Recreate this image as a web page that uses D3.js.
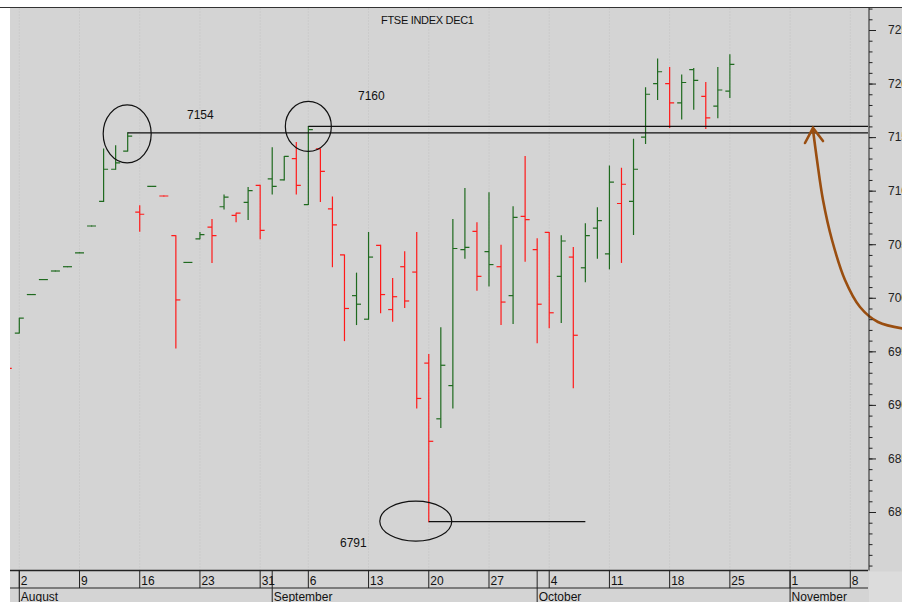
<!DOCTYPE html>
<html>
<head>
<meta charset="utf-8">
<script src="https://cdn.jsdelivr.net/npm/d3@7"></script>
<style>
  body { margin: 0; background: #fff; }
  svg { display: block; font-family: "Liberation Sans", Arial, sans-serif; }
</style>
</head>
<body>
<svg width="902" height="602"></svg>
<script>
// daily OHLC of the Dec contract
var dates = ["2021-07-30",
  "2021-08-02","2021-08-03","2021-08-04","2021-08-05","2021-08-06",
  "2021-08-09","2021-08-10","2021-08-11","2021-08-12","2021-08-13",
  "2021-08-16","2021-08-17","2021-08-18","2021-08-19","2021-08-20",
  "2021-08-23","2021-08-24","2021-08-25","2021-08-26","2021-08-27",
  "2021-08-31","2021-09-01","2021-09-02","2021-09-03",
  "2021-09-06","2021-09-07","2021-09-08","2021-09-09","2021-09-10",
  "2021-09-13","2021-09-14","2021-09-15","2021-09-16","2021-09-17",
  "2021-09-20","2021-09-21","2021-09-22","2021-09-23","2021-09-24",
  "2021-09-27","2021-09-28","2021-09-29","2021-09-30","2021-10-01",
  "2021-10-04","2021-10-05","2021-10-06","2021-10-07","2021-10-08",
  "2021-10-11","2021-10-12","2021-10-13","2021-10-14","2021-10-15",
  "2021-10-18","2021-10-19","2021-10-20","2021-10-21","2021-10-22",
  "2021-10-25"];
var open  = [6940,
  6967,7003,7017,7025,7029, 7042,7067,7090,7120,7137, 7080,7104,7095,7058,7033,
  7055,7066,7085,7077,7089, 7105,7111,7110,7130, 7087,7139,7083,7040,7002,
  6980,7049,6989,7029,7024, 6939,6887,6918,7045,7062, 7043,7029,7002,7076,7045,
  7061,7020,7038,7028,7065, 7041,7088,7090,7150,7200, 7200,7182,7213,7188,7179,
  7193];
var high  = [6945,
  6981,7003,7017,7025,7029, 7042,7067,7139,7142,7154, 7086,7104,7095,7058,7033,
  7061,7073,7096,7079,7103, 7105,7140,7132,7145, 7160,7139,7094,7040,7023,
  7061,7049,7018,7043,7061, 6947,6972,7073,7102,7070, 7098,7049,7085,7132,7055,
  7061,7058,7047,7069,7084, 7123,7121,7148,7196,7223, 7215,7208,7214,7201,7215,
  7227];
var low   = [6925,
  6967,7003,7017,7025,7029, 7042,7067,7090,7120,7137, 7062,7104,7095,6953,7033,
  7055,7033,7083,7071,7073, 7055,7097,7110,7097, 7087,7090,7029,6960,6975,
  6980,6986,6978,6991,6897, 6791,6879,6897,7037,7007, 7011,6975,6976,7034,6958,
  6972,6977,6916,7015,7037, 7027,7033,7059,7144,7185, 7159,7167,7176,7158,7168,
  7187];
var close = [6934,
  6981,7003,7017,7025,7029, 7042,7067,7120,7126,7151, 7078,7104,7095,6998,7033,
  7059,7058,7094,7079,7100, 7063,7104,7132,7105, 7157,7118,7068,6990,6994,
  7038,7003,7001,6997,6906, 6866,6937,7046,7047,7020, 7031,6996,7075,7073,6994,
  6986,7053,6965,7058,7072, 7108,7106,7120,7190,7211, 7182,7201,7203,7168,7194,
  7218];

// axis labels
var weekTicks = ["2021-08-02","2021-08-09","2021-08-16","2021-08-23","2021-08-31",
  "2021-09-06","2021-09-13","2021-09-20","2021-09-27","2021-10-04","2021-10-11",
  "2021-10-18","2021-10-25","2021-11-01","2021-11-08"];
var monthTicks = ["2021-08-02","2021-09-01","2021-10-01","2021-11-01"];
var monthNames = ["August","September","October","November"];
var priceTicks = [7250,7200,7150,7100,7050,7000,6950,6900,6850,6800];

// hand drawn marks: levels and their labels
var levelDates = [["2021-08-13", null], ["2021-09-06", null], ["2021-09-20", "2021-10-07"]];
var levelValues = [7154, 7160, 6791];
var levelLabels = ["7154", "7160", "6791"];

var svg = d3.select("svg"),
    width = +svg.attr("width"),
    height = +svg.attr("height");

var plotLeft = 10, plotRight = 868, plotTop = 7.5, plotBottom = 570.5;

// trading calendar (weekdays, UK bank holiday removed)
var holidays = ["2021-08-30"];
var fmt = d3.timeFormat("%Y-%m-%d");
var parse = d3.timeParse("%Y-%m-%d");
var days = d3.timeDay.range(new Date(2021, 6, 30), new Date(2021, 10, 13))
  .filter(function(d) { var w = d.getDay(); return w > 0 && w < 6 && holidays.indexOf(fmt(d)) < 0; })
  .map(fmt);
var base = days.indexOf("2021-08-02");
function idx(s) { return days.indexOf(s) - base; }

var x = d3.scaleLinear().domain([0, 69]).range([19.3, 850.3]);
var y = d3.scaleLinear().domain([6800, 7250]).range([512, 30]);

var green = "#1f6a1f", red = "#ff1a1a";

// background
svg.append("rect").attr("x", plotLeft).attr("y", plotTop).attr("width", width - plotLeft).attr("height", height - plotTop)
  .attr("fill", "#d4d4d4");
svg.append("rect").attr("x", plotRight + 1).attr("y", plotBottom + 1).attr("width", width - plotRight).attr("height", height - plotBottom)
  .attr("fill", "#dcdcdc");
svg.append("line").attr("x1", 0).attr("x2", width).attr("y1", plotTop).attr("y2", plotTop)
  .attr("stroke", "#333").attr("stroke-width", 1);

// weekly grid
svg.append("g").selectAll("line")
  .data(weekTicks)
  .enter().append("line")
    .attr("x1", function(d) { return x(idx(d)); })
    .attr("x2", function(d) { return x(idx(d)); })
    .attr("y1", plotTop + 1).attr("y2", plotBottom)
    .attr("stroke", "#c2c2c2").attr("stroke-dasharray", "1,2");

svg.append("text").attr("x", 381).attr("y", 24)
  .attr("font-size", 11).attr("letter-spacing", -0.3).attr("fill", "#111")
  .text("FTSE INDEX DEC1");

// bars
svg.append("clipPath").attr("id", "plot")
  .append("rect").attr("x", plotLeft).attr("y", plotTop).attr("width", plotRight - plotLeft).attr("height", plotBottom - plotTop);

var bars = dates.map(function(d, i) {
  var up = i > 0 ? close[i] > close[i - 1] : close[i] >= open[i];
  return {date: d, o: open[i], h: high[i], l: low[i], c: close[i], color: up ? green : red};
});

var bar = svg.append("g").attr("clip-path", "url(#plot)")
  .selectAll("g")
  .data(bars)
  .enter().append("g")
    .attr("stroke", function(d) { return d.color; })
    .attr("stroke-width", 1.2);

bar.append("line")
  .attr("x1", function(d) { return x(idx(d.date)); })
  .attr("x2", function(d) { return x(idx(d.date)); })
  .attr("y1", function(d) { return y(d.h) - 0.5; })
  .attr("y2", function(d) { return y(d.l) + 0.5; });
bar.append("line")
  .attr("x1", function(d) { return x(idx(d.date)) - 4.5; })
  .attr("x2", function(d) { return x(idx(d.date)); })
  .attr("y1", function(d) { return y(d.o); })
  .attr("y2", function(d) { return y(d.o); });
bar.append("line")
  .attr("x1", function(d) { return x(idx(d.date)); })
  .attr("x2", function(d) { return x(idx(d.date)) + 4.5; })
  .attr("y1", function(d) { return y(d.c); })
  .attr("y2", function(d) { return y(d.c); });

// levels, circles and labels
var ann = svg.append("g").attr("stroke", "#111").attr("fill", "none").attr("stroke-width", 1.2);
levelValues.forEach(function(v, i) {
  var x1 = x(idx(levelDates[i][0]));
  var x2 = levelDates[i][1] ? x(idx(levelDates[i][1])) : plotRight;
  ann.append("line").attr("x1", x1).attr("x2", x2).attr("y1", y(v)).attr("y2", y(v));
});
ann.append("ellipse").attr("cx", x(idx("2021-08-13")) - 0.5).attr("cy", y(7154) + 1).attr("rx", 24).attr("ry", 29);
ann.append("ellipse").attr("cx", x(idx("2021-09-06"))).attr("cy", y(7160)).attr("rx", 23).attr("ry", 25);
ann.append("ellipse").attr("cx", x(idx("2021-09-20")) - 13).attr("cy", y(6791) - 0.5).attr("rx", 36).attr("ry", 20);

var labelPos = [[187, -14], [358, -26], [340, 25.5]];
levelLabels.forEach(function(t, i) {
  svg.append("text").attr("x", labelPos[i][0]).attr("y", y(levelValues[i]) + labelPos[i][1])
    .attr("font-size", 12).attr("fill", "#111").text(t);
});

// brown arrow
var arrow = svg.append("g").attr("stroke", "#9a4e10").attr("stroke-width", 2.6).attr("fill", "none")
  .attr("stroke-linecap", "round");
arrow.append("path")
  .attr("d", d3.line().curve(d3.curveCatmullRom)([[906, 329], [878, 322], [860, 307], [845, 280], [832, 240], [823, 200], [817, 160], [813, 130]]));
arrow.append("path").attr("d", "M805,143L813,128L823,141");

// right price axis
var axisG = svg.append("g").attr("transform", "translate(" + (plotRight + 1) + ",0)");
axisG.append("line").attr("x1", 0).attr("x2", 0).attr("y1", plotTop).attr("y2", plotBottom)
  .attr("stroke", "#222");
axisG.append("g")
  .call(d3.axisRight(y).tickValues(d3.range(6750, 7271, 10)).tickSize(3.5).tickFormat(""))
  .call(function(g) { g.select(".domain").remove(); g.selectAll("line").attr("stroke", "#222"); });
axisG.append("g")
  .call(d3.axisRight(y).tickValues(priceTicks).tickSize(7).tickPadding(12).tickFormat(d3.format("d")))
  .call(function(g) {
    g.select(".domain").remove();
    g.selectAll("line").attr("stroke", "#222");
    g.selectAll("text").attr("font-size", 12).attr("fill", "#222").attr("font-family", "Liberation Sans, Arial, sans-serif");
  });

// date axis
var dateAxis = svg.append("g").attr("stroke", "#222");
dateAxis.append("line").attr("x1", plotLeft).attr("x2", plotRight).attr("y1", plotBottom).attr("y2", plotBottom)
  .attr("stroke-width", 1.6);
dateAxis.append("line").attr("x1", plotLeft).attr("x2", plotRight).attr("y1", 588).attr("y2", 588);
dateAxis.selectAll(".wk")
  .data(weekTicks)
  .enter().append("line")
    .attr("x1", function(d) { return x(idx(d)); })
    .attr("x2", function(d) { return x(idx(d)); })
    .attr("y1", plotBottom).attr("y2", 588);
dateAxis.selectAll(".mo")
  .data(monthTicks)
  .enter().append("line")
    .attr("x1", function(d) { return x(idx(d)); })
    .attr("x2", function(d) { return x(idx(d)); })
    .attr("y1", plotBottom).attr("y2", height);

svg.append("g").selectAll("text")
  .data(weekTicks)
  .enter().append("text")
    .attr("x", function(d) { return x(idx(d)) + 1.5; })
    .attr("y", 585)
    .attr("font-size", 12).attr("fill", "#111")
    .text(function(d) { return parse(d).getDate(); });

svg.append("g").selectAll("text")
  .data(monthTicks)
  .enter().append("text")
    .attr("x", function(d) { return x(idx(d)) + 1.5; })
    .attr("y", 600.5)
    .attr("font-size", 12).attr("fill", "#111")
    .text(function(d, i) { return monthNames[i]; });
</script>
</body>
</html>
